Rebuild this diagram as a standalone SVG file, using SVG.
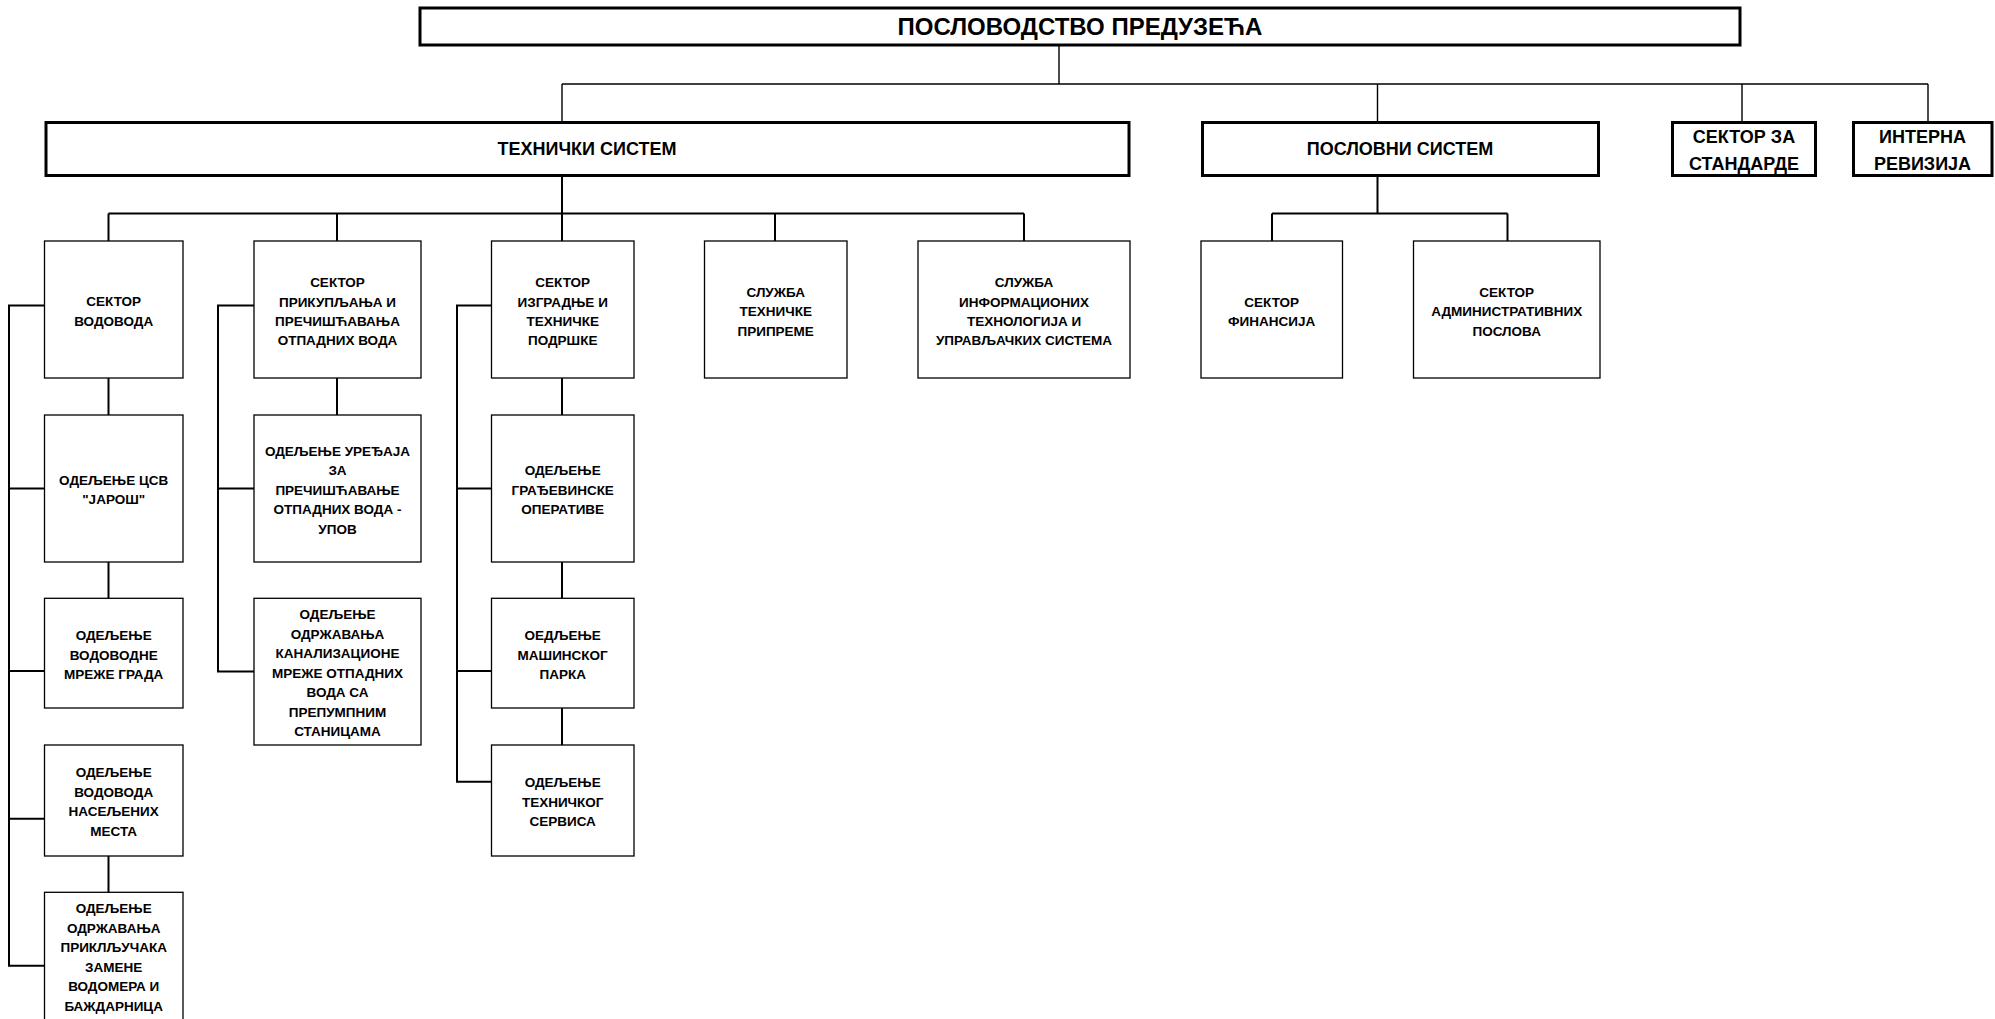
<svg xmlns="http://www.w3.org/2000/svg" width="1995" height="1019" viewBox="0 0 1995 1019">
<style>
  .bg{fill:#ffffff}
  .b3{fill:#ffffff;stroke:#000;stroke-width:3}
  .b1{fill:#ffffff;stroke:#000;stroke-width:1.3}
  .c1{fill:none;stroke:#000;stroke-width:1.4}
  .c2{fill:none;stroke:#000;stroke-width:2}
  text{font-family:"Liberation Sans",Arial,sans-serif;font-weight:bold;fill:#000;text-anchor:middle}
  .t0{font-size:24px}
  .t1{font-size:18px}
  .t2{font-size:13.5px}
</style>
<rect class="bg" x="0" y="0" width="1995" height="1019"/>
<g id="connectors">
  <path class="c1" d="M1059,46 V84 M562,84 H1928 M562,84 V122 M1377.5,84 V122 M1742,84 V122 M1928,84 V122"/>
  <path class="c2" d="M562,176 V213.5 M108.5,213.5 H1024 M108.5,213.5 V241 M337,213.5 V241 M562,213.5 V241 M775,213.5 V241 M1024,213.5 V241"/>
  <path class="c2" d="M1377.5,176 V213.5 M1272,213.5 H1507.5 M1272,213.5 V241 M1507.5,213.5 V241"/>
  <path class="c2" d="M108.5,378 V415 M108.5,562 V598.3 M108.5,856 V892.3 M337,378 V415 M562,378 V415 M562,562 V598.3 M562,708 V745"/>
  <path class="c2" d="M44.5,305.5 H9 V965.7 H44.5 M9,488.5 H44.5 M9,671 H44.5 M9,818.7 H44.5"/>
  <path class="c2" d="M254,305.5 H218 V671.5 H254 M218,488.5 H254"/>
  <path class="c2" d="M491.5,305.5 H457 V781.7 H491.5 M457,488.5 H491.5 M457,671 H491.5"/>
</g>
<g id="n-poslovodstvo">
  <rect class="b3" x="420" y="8" width="1320" height="37"/>
  <text class="t0" x="1080" y="35">ПОСЛОВОДСТВО ПРЕДУЗЕЋА</text>
</g>
<g id="n-tehnicki">
  <rect class="b3" x="46" y="122.5" width="1083" height="53"/>
  <text class="t1" x="587" y="155.4">ТЕХНИЧКИ СИСТЕМ</text>
</g>
<g id="n-poslovni">
  <rect class="b3" x="1202.5" y="122.5" width="396" height="53"/>
  <text class="t1" x="1400" y="155.4">ПОСЛОВНИ СИСТЕМ</text>
</g>
<g id="n-standardi">
  <rect class="b3" x="1672.5" y="122.5" width="143" height="53"/>
  <text class="t1" x="1744" y="143">СЕКТОР ЗА</text>
  <text class="t1" x="1744" y="169.7">СТАНДАРДЕ</text>
</g>
<g id="n-revizija">
  <rect class="b3" x="1853.5" y="122.5" width="138.5" height="53"/>
  <text class="t1" x="1922.5" y="143">ИНТЕРНА</text>
  <text class="t1" x="1922.5" y="169.7">РЕВИЗИЈА</text>
</g>
<g id="n-vodovod">
  <rect class="b1" x="44.5" y="241" width="138.5" height="137"/>
  <text class="t2" x="113.7" y="306">СЕКТОР</text>
  <text class="t2" x="113.7" y="325.5">ВОДОВОДА</text>
</g>
<g id="n-prikupljanje">
  <rect class="b1" x="254" y="241" width="167" height="137"/>
  <text class="t2" x="337.5" y="287">СЕКТОР</text>
  <text class="t2" x="337.5" y="306.5">ПРИКУПЉАЊА И</text>
  <text class="t2" x="337.5" y="325.5">ПРЕЧИШЋАВАЊА</text>
  <text class="t2" x="337.5" y="345">ОТПАДНИХ ВОДА</text>
</g>
<g id="n-izgradnja">
  <rect class="b1" x="491.5" y="241" width="142.5" height="137"/>
  <text class="t2" x="562.7" y="287">СЕКТОР</text>
  <text class="t2" x="562.7" y="306.5">ИЗГРАДЊЕ И</text>
  <text class="t2" x="562.7" y="325.5">ТЕХНИЧКЕ</text>
  <text class="t2" x="562.7" y="345">ПОДРШКЕ</text>
</g>
<g id="n-priprema">
  <rect class="b1" x="704.5" y="241" width="142.5" height="137"/>
  <text class="t2" x="775.7" y="296.5">СЛУЖБА</text>
  <text class="t2" x="775.7" y="316">ТЕХНИЧКЕ</text>
  <text class="t2" x="775.7" y="335.5">ПРИПРЕМЕ</text>
</g>
<g id="n-it">
  <rect class="b1" x="918" y="241" width="212" height="137"/>
  <text class="t2" x="1024" y="287">СЛУЖБА</text>
  <text class="t2" x="1024" y="306.5">ИНФОРМАЦИОНИХ</text>
  <text class="t2" x="1024" y="325.5">ТЕХНОЛОГИЈА И</text>
  <text class="t2" x="1024" y="345">УПРАВЉАЧКИХ СИСТЕМА</text>
</g>
<g id="n-finansije">
  <rect class="b1" x="1201" y="241" width="141.5" height="137"/>
  <text class="t2" x="1271.7" y="306.5">СЕКТОР</text>
  <text class="t2" x="1271.7" y="325.8">ФИНАНСИЈА</text>
</g>
<g id="n-admin">
  <rect class="b1" x="1413.5" y="241" width="186.5" height="137"/>
  <text class="t2" x="1506.7" y="296.5">СЕКТОР</text>
  <text class="t2" x="1506.7" y="316">АДМИНИСТРАТИВНИХ</text>
  <text class="t2" x="1506.7" y="335.5">ПОСЛОВА</text>
</g>
<g id="n-csv">
  <rect class="b1" x="44.5" y="415" width="138.5" height="147"/>
  <text class="t2" x="113.7" y="485">ОДЕЉЕЊЕ ЦСВ</text>
  <text class="t2" x="113.7" y="504">"ЈАРОШ"</text>
</g>
<g id="n-upov">
  <rect class="b1" x="254" y="415" width="167" height="147"/>
  <text class="t2" x="337.5" y="455.5">ОДЕЉЕЊЕ УРЕЂАЈА</text>
  <text class="t2" x="337.5" y="475">ЗА</text>
  <text class="t2" x="337.5" y="494.5">ПРЕЧИШЋАВАЊЕ</text>
  <text class="t2" x="337.5" y="514">ОТПАДНИХ ВОДА -</text>
  <text class="t2" x="337.5" y="533.5">УПОВ</text>
</g>
<g id="n-gradjevinska">
  <rect class="b1" x="491.5" y="415" width="142.5" height="147"/>
  <text class="t2" x="562.7" y="475">ОДЕЉЕЊЕ</text>
  <text class="t2" x="562.7" y="494.5">ГРАЂЕВИНСКЕ</text>
  <text class="t2" x="562.7" y="514">ОПЕРАТИВЕ</text>
</g>
<g id="n-mreza-grada">
  <rect class="b1" x="44.5" y="598.3" width="138.5" height="109.7"/>
  <text class="t2" x="113.7" y="640">ОДЕЉЕЊЕ</text>
  <text class="t2" x="113.7" y="659.5">ВОДОВОДНЕ</text>
  <text class="t2" x="113.7" y="679">МРЕЖЕ ГРАДА</text>
</g>
<g id="n-kanalizacija">
  <rect class="b1" x="254" y="598.3" width="167" height="146.7"/>
  <text class="t2" x="337.5" y="619">ОДЕЉЕЊЕ</text>
  <text class="t2" x="337.5" y="638.5">ОДРЖАВАЊА</text>
  <text class="t2" x="337.5" y="658">КАНАЛИЗАЦИОНЕ</text>
  <text class="t2" x="337.5" y="677.5">МРЕЖЕ ОТПАДНИХ</text>
  <text class="t2" x="337.5" y="697">ВОДА СА</text>
  <text class="t2" x="337.5" y="716.5">ПРЕПУМПНИМ</text>
  <text class="t2" x="337.5" y="736">СТАНИЦАМА</text>
</g>
<g id="n-masinski">
  <rect class="b1" x="491.5" y="598.3" width="142.5" height="109.7"/>
  <text class="t2" x="562.7" y="640">ОЕДЉЕЊЕ</text>
  <text class="t2" x="562.7" y="659.5">МАШИНСКОГ</text>
  <text class="t2" x="562.7" y="679">ПАРКА</text>
</g>
<g id="n-naselja">
  <rect class="b1" x="44.5" y="745" width="138.5" height="111"/>
  <text class="t2" x="113.7" y="777">ОДЕЉЕЊЕ</text>
  <text class="t2" x="113.7" y="796.5">ВОДОВОДА</text>
  <text class="t2" x="113.7" y="816">НАСЕЉЕНИХ</text>
  <text class="t2" x="113.7" y="835.5">МЕСТА</text>
</g>
<g id="n-servis">
  <rect class="b1" x="491.5" y="745" width="142.5" height="111"/>
  <text class="t2" x="562.7" y="787">ОДЕЉЕЊЕ</text>
  <text class="t2" x="562.7" y="806.5">ТЕХНИЧКОГ</text>
  <text class="t2" x="562.7" y="826">СЕРВИСА</text>
</g>
<g id="n-prikljucci">
  <rect class="b1" x="44.5" y="892.3" width="138.5" height="140"/>
  <text class="t2" x="113.7" y="913">ОДЕЉЕЊЕ</text>
  <text class="t2" x="113.7" y="932.5">ОДРЖАВАЊА</text>
  <text class="t2" x="113.7" y="952">ПРИКЛЉУЧАКА</text>
  <text class="t2" x="113.7" y="971.5">ЗАМЕНЕ</text>
  <text class="t2" x="113.7" y="991">ВОДОМЕРА И</text>
  <text class="t2" x="113.7" y="1010.5">БАЖДАРНИЦА</text>
</g>
</svg>
